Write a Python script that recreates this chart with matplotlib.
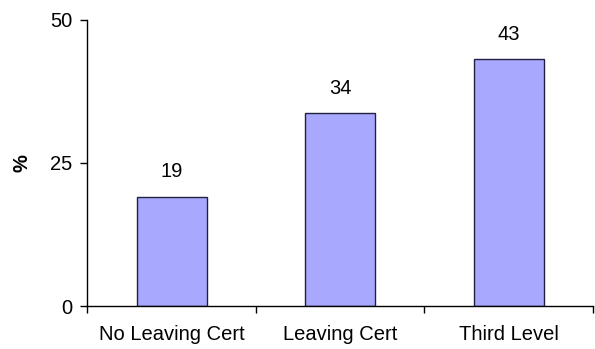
import matplotlib
matplotlib.use("Agg")
import matplotlib.pyplot as plt
import numpy as np

categories = ["No Leaving Cert", "Leaving Cert", "Third Level"]
values = [19.1, 33.7, 43.1]
labels = ["19", "34", "43"]
yticks = [0, 25, 50]

plt.rcParams['font.family'] = ['Liberation Sans', 'DejaVu Sans']

fig = plt.figure(figsize=(5.95, 3.49), dpi=100)
ax = fig.add_axes([87.3/595, 1 - 306/349, (593 - 87.3)/595, (306 - 19.5)/349])

x = np.arange(len(categories))
bars = ax.bar(x, values, width=0.415, color="#A8A8FF", edgecolor="#202040", linewidth=1.0, zorder=2)

for xi, v, lab in zip(x, values, labels):
    ax.annotate(lab, (xi, v), xytext=(0, 11), textcoords="offset points",
                ha="center", va="bottom", fontsize=14.5)

ax.set_xlim(-0.5, len(categories) - 0.5)
ax.set_ylim(0, 50)
ax.set_yticks(yticks)
ax.set_yticklabels([str(t) for t in yticks], fontsize=14.5)
ax.set_xticks(x)
ax.set_xticklabels(categories, fontsize=14.5)
ax.set_xticks(np.arange(-0.5, len(categories), 1.0), minor=True)
ax.tick_params(axis="x", which="major", length=0, pad=14)
ax.tick_params(axis="x", which="minor", length=5, width=1, direction="out")
ax.tick_params(axis="y", length=5, width=1, direction="out", pad=6)

for s in ["top", "right"]:
    ax.spines[s].set_visible(False)
ax.spines["left"].set_linewidth(1)
ax.spines["bottom"].set_linewidth(1)

ax.set_ylabel("%", fontsize=14.5, fontweight="bold", labelpad=13)

fig.savefig("out.png", dpi=100)
